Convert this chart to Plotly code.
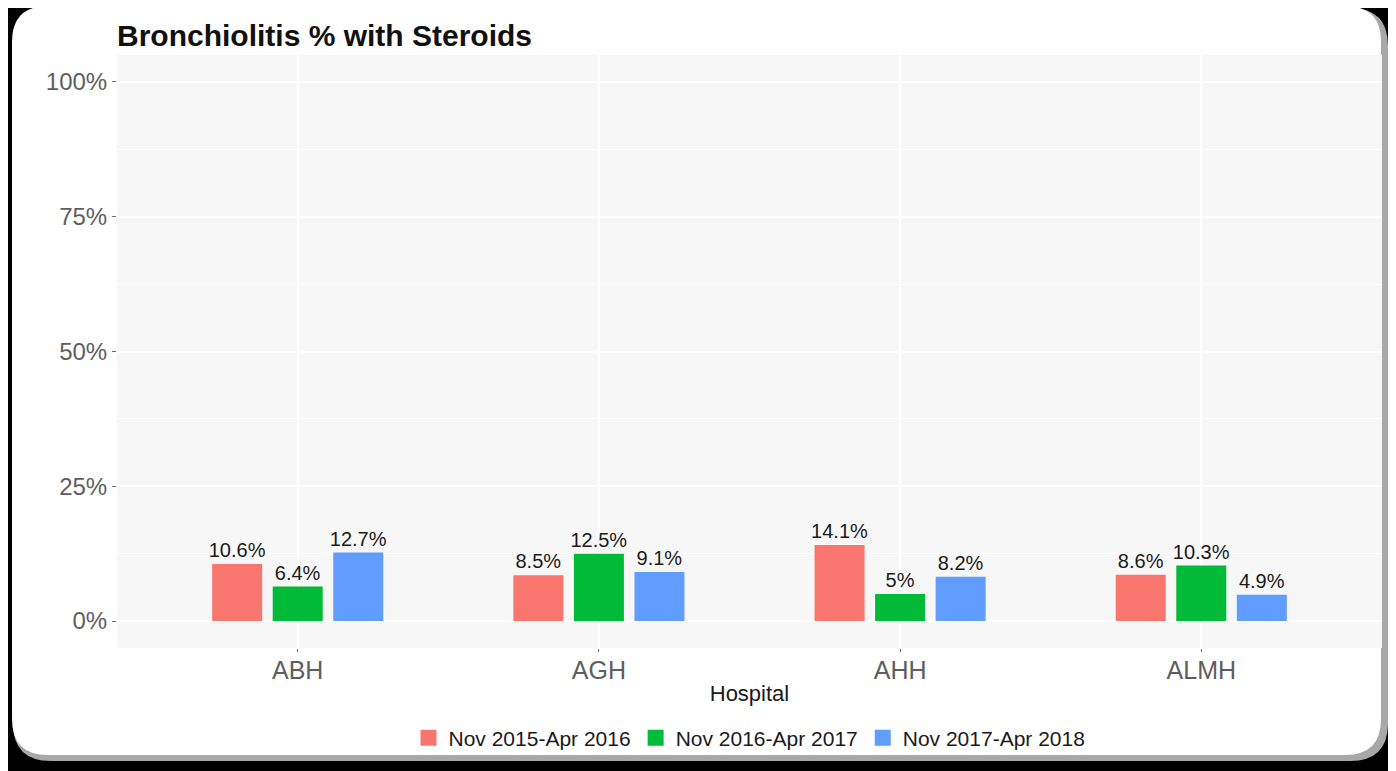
import plotly.graph_objects as go

hospitals = ["ABH", "AGH", "AHH", "ALMH"]
series_names = ["Nov 2015-Apr 2016", "Nov 2016-Apr 2017", "Nov 2017-Apr 2018"]
s2016 = [10.6, 8.5, 14.1, 8.6]
s2017 = [6.4, 12.5, 5.0, 10.3]
s2018 = [12.7, 9.1, 8.2, 4.9]
series_values = [s2016, s2017, s2018]
colors = ["#F8766D", "#00BA38", "#619CFF"]

OFF = 8  # page offset of the figure div
W, H = 1396, 771
L, R, T, B = 117 - OFF, 22, 55 - OFF, 131
PW, PH = W - L - R, H - T - B

def px(x):  # screen pixel -> paper
    return (x - OFF - L) / PW

def py(y):
    return (H - B - (y - OFF)) / PH

def rounded(x0, y0, x1, y1, r):
    pts = [
        ("M", [(x0 + r, y0)]),
        ("L", [(x1 - r, y0)]),
        ("Q", [(x1, y0), (x1, y0 + r)]),
        ("L", [(x1, y1 - r)]),
        ("Q", [(x1, y1), (x1 - r, y1)]),
        ("L", [(x0 + r, y1)]),
        ("Q", [(x0, y1), (x0, y1 - r)]),
        ("L", [(x0, y0 + r)]),
        ("Q", [(x0, y0), (x0 + r, y0)]),
    ]
    s = ""
    for cmd, ps in pts:
        s += cmd + " " + " ".join(f"{px(a):.5f},{py(b):.5f}" for a, b in ps) + " "
    return s + "Z"

FONT = "Liberation Sans, Arial, sans-serif"

fig = go.Figure()
for name, vals, c in zip(series_names, series_values, colors):
    fig.add_trace(go.Bar(
        x=hospitals, y=vals, name=name, marker=dict(color=c, line=dict(width=0)),
        text=[f"{v:g}%" for v in vals], textposition="outside", constraintext="none",
        textfont=dict(size=20, color="#1a1a1a", family=FONT),
        cliponaxis=False, showlegend=False, hoverinfo="skip",
    ))
for name, c in zip(series_names, colors):
    fig.add_trace(go.Scatter(
        x=[None], y=[None], mode="markers", name=name,
        marker=dict(symbol="square", size=21, color=c), showlegend=True,
    ))

shapes = [
    dict(type="path", xref="paper", yref="paper", layer="below",
         path=rounded(13, 8, 1388, 761, 38), fillcolor="#a8a8a8", line=dict(width=0)),
    dict(type="path", xref="paper", yref="paper", layer="below",
         path=rounded(12, 6, 1381, 755, 36), fillcolor="#ffffff", line=dict(width=0)),
    dict(type="rect", xref="paper", yref="paper", layer="below",
         x0=0, x1=1, y0=0, y1=1, fillcolor="#F7F7F7", line=dict(width=0)),
]

fig.update_layout(
    width=W, height=H,
    margin=dict(l=L, r=R, t=T, b=B, autoexpand=False),
    paper_bgcolor="#000000", plot_bgcolor="rgba(0,0,0,0)",
    barmode="group", bargap=0.397, bargroupgap=0.174,
    shapes=shapes,
    title=dict(text="<b>Bronchiolitis % with Steroids</b>", x=px(117), xref="paper", xanchor="left",
               y=1 - (35 - OFF) / H, yref="container", yanchor="middle",
               font=dict(size=30, color="#111111", family=FONT)),
    font=dict(family=FONT),
    legend=dict(orientation="h", x=0.5, xanchor="center", y=py(738), yanchor="middle",
                font=dict(size=21, color="#1a1a1a", family=FONT), bgcolor="rgba(0,0,0,0)",
                itemwidth=30, tracegroupgap=0),
    xaxis=dict(range=[-0.6, 3.6], showgrid=True, gridcolor="#ffffff", gridwidth=1.5,
               ticks="outside", ticklen=3, tickcolor="#6a6a6a", ticklabelstandoff=-3,
               tickfont=dict(size=25, color="#5e5e5e", family=FONT),
               title=dict(text="Hospital", font=dict(size=22, color="#1a1a1a", family=FONT), standoff=2),
               zeroline=False, showline=False, automargin=False),
    yaxis=dict(range=[-5, 105], tick0=0, dtick=25, ticksuffix="%",
               showgrid=True, gridcolor="#ffffff", gridwidth=1.5,
               minor=dict(dtick=12.5, tick0=0, showgrid=True, gridcolor="#ffffff", gridwidth=0.8, ticks=""),
               ticks="outside", ticklen=4, tickcolor="#6a6a6a",
               tickfont=dict(size=24, color="#5e5e5e", family=FONT),
               zeroline=False, showline=False, automargin=False),
)

fig.write_html("out.html")
